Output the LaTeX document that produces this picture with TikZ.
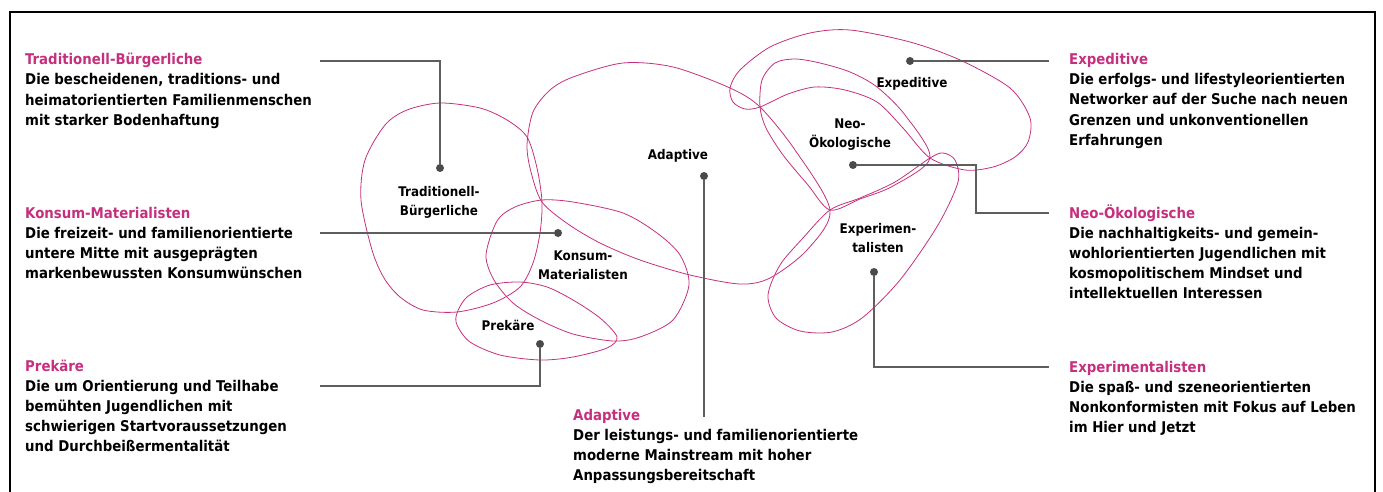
\documentclass[tikz,border=0pt]{standalone}
\usepackage{fontspec}
\setmainfont{DejaVu Sans Condensed}
\usetikzlibrary{positioning}

\definecolor{milieupink}{HTML}{C4307E}
\definecolor{leadgray}{HTML}{5E5E5E}

\begin{document}
\begin{tikzpicture}
  [
    x = 1pt, y = -1pt,
    milieu/.style = {draw = milieupink, line width = 0.8pt},
    lead/.style = {draw = leadgray, line width = 1.8pt},
    dot/.style = {circle, fill = leadgray!80!black, inner sep = 0pt, minimum size = 8pt},
    tag/.style = {font = \fontsize{13.3}{19}\selectfont\bfseries, align = center, inner sep = 0pt},
    desc/.style = {font = \fontsize{14.8}{20}\selectfont\bfseries, align = left, anchor = base west, inner sep = 0pt},
  ]

  \useasboundingbox (0,0) rectangle (1383,492);
  \draw [line width = 2pt] (10,500) |- (1375,12) -- (1375,500);

  % milieus
  \draw [milieu] plot [smooth cycle] coordinates {
      (440,103) (480,108) (507,120) (527,137) (537,168) (542,202) (540,233)
      (533,263) (520,287) (493,303) (457,312) (423,310) (400,297) (384,278)
      (372,250) (361,200) (365,160) (385,125) (407,110)};
  \draw [milieu] plot [smooth cycle] coordinates {
      (542,202) (531,172) (527,145) (533,112) (550,90) (573,77) (623,63)
      (673,67) (730,88) (760,107) (795,150) (830,210) (807,250) (770,278)
      (740,284) (690,275) (640,260) (600,243) (568,224)};
  \draw [milieu] plot [smooth cycle] coordinates {
      (542,200) (573,202) (623,213) (657,233) (680,255) (689,285) (673,320)
      (640,337) (613,341) (573,334) (540,320) (513,303) (494,280) (486,255)
      (497,221) (515,207)};
  \draw [milieu] plot [smooth cycle] coordinates {
      (457,313) (467,297) (490,285) (520,282) (547,287) (573,300) (600,318)
      (617,337) (607,348) (573,357) (540,360) (500,355) (470,342) (457,325)};
  \draw [milieu] plot [smooth cycle] coordinates {
      (760,107) (745,109) (733,102) (730,88) (740,70) (770,47) (810,33)
      (850,30) (910,42) (960,60) (1010,88) (1030,118) (1028,142) (1015,157)
      (993,167) (965,170) (930,158) (903,128) (877,102) (845,90) (815,87)
      (788,94)};
  \draw [milieu] plot [smooth cycle] coordinates {
      (760,107) (762,80) (775,63) (795,59) (820,63) (850,72) (877,87)
      (905,115) (930,158) (893,186) (860,199) (830,210) (808,185) (783,155)
      (766,128)};
  \draw [milieu] plot [smooth cycle] coordinates {
      (830,210) (803,238) (780,265) (768,295) (776,318) (800,331) (832,332)
      (862,318) (900,280) (938,225) (958,182) (955,160) (943,153) (930,158)
      (895,182) (860,198)};

  % labels
  \node [tag] (lbl-trad) at (439,202) {Traditionell-\\Bürgerliche};
  \node [tag] (lbl-konsum) at (583,265) {Konsum-\\Materialisten};
  \node [tag] (lbl-prek) at (508,325) {Prekäre};
  \node [tag] (lbl-adapt) at (678,156) {Adaptive};
  \node [tag] (lbl-expd) at (912,84) {Expeditive};
  \node [tag] (lbl-neo) at (850,135) {Neo-\\Ökologische};
  \node [tag] (lbl-exp) at (878,238) {Experimen-\\talisten};

  % dots
  \node [dot] (dot-trad) at (440,168) {};
  \node [dot] (dot-konsum) at (558,233) {};
  \node [dot] (dot-prek) at (540,344) {};
  \node [dot] (dot-adapt) at (704,176) {};
  \node [dot] (dot-expd) at (910,61) {};
  \node [dot] (dot-neo) at (853,165) {};
  \node [dot] (dot-exp) at (874,272) {};

  % descriptions (base = last line)
  \node [desc] (txt-trad) at (25,125)
    {{\color{milieupink}Traditionell-Bürgerliche}\\
      Die bescheidenen, traditions- und\\
      heimatorientierten Familienmenschen\\
      mit starker Bodenhaftung};
  \node [desc] (txt-konsum) at (25,278)
    {{\color{milieupink}Konsum-Materialisten}\\
      Die freizeit- und familienorientierte\\
      untere Mitte mit ausgeprägten\\
      markenbewussten Konsumwünschen};
  \node [desc] (txt-prek) at (25,451)
    {{\color{milieupink}Prekäre}\\
      Die um Orientierung und Teilhabe\\
      bemühten Jugendlichen mit\\
      schwierigen Startvoraussetzungen\\
      und Durchbeißermentalität};
  \node [desc] (txt-adapt) at (573,480)
    {{\color{milieupink}Adaptive}\\
      Der leistungs- und familienorientierte\\
      moderne Mainstream mit hoher\\
      Anpassungsbereitschaft};
  \node [desc] (txt-expd) at (1069,145)
    {{\color{milieupink}Expeditive}\\
      Die erfolgs- und lifestyleorientierten\\
      Networker auf der Suche nach neuen\\
      Grenzen und unkonventionellen\\
      Erfahrungen};
  \node [desc] (txt-neo) at (1069,298)
    {{\color{milieupink}Neo-Ökologische}\\
      Die nachhaltigkeits- und gemein-\\
      wohlorientierten Jugendlichen mit\\
      kosmopolitischem Mindset und\\
      intellektuellen Interessen};
  \node [desc] (txt-exp) at (1069,432)
    {{\color{milieupink}Experimentalisten}\\
      Die spaß- und szeneorientierten\\
      Nonkonformisten mit Fokus auf Leben\\
      im Hier und Jetzt};

  % leader lines
  \coordinate (end-trad) at (320,61);
  \coordinate (end-konsum) at (320,233);
  \coordinate (end-prek) at (320,386);
  \coordinate (end-adapt) at (704,417);
  \coordinate (end-expd) at (1049,61);
  \coordinate (bend-neo) at (976,213);
  \coordinate (end-neo) at (1049,213);
  \coordinate (end-exp) at (1049,367);

  \draw [lead] (dot-trad) |- (end-trad);
  \draw [lead] (dot-konsum) -- (end-konsum);
  \draw [lead] (dot-prek) |- (end-prek);
  \draw [lead] (dot-adapt) -- (end-adapt);
  \draw [lead] (dot-expd) -- (end-expd);
  \draw [lead] (dot-neo) -| (bend-neo) -- (end-neo);
  \draw [lead] (dot-exp) |- (end-exp);

\end{tikzpicture}
\end{document}
